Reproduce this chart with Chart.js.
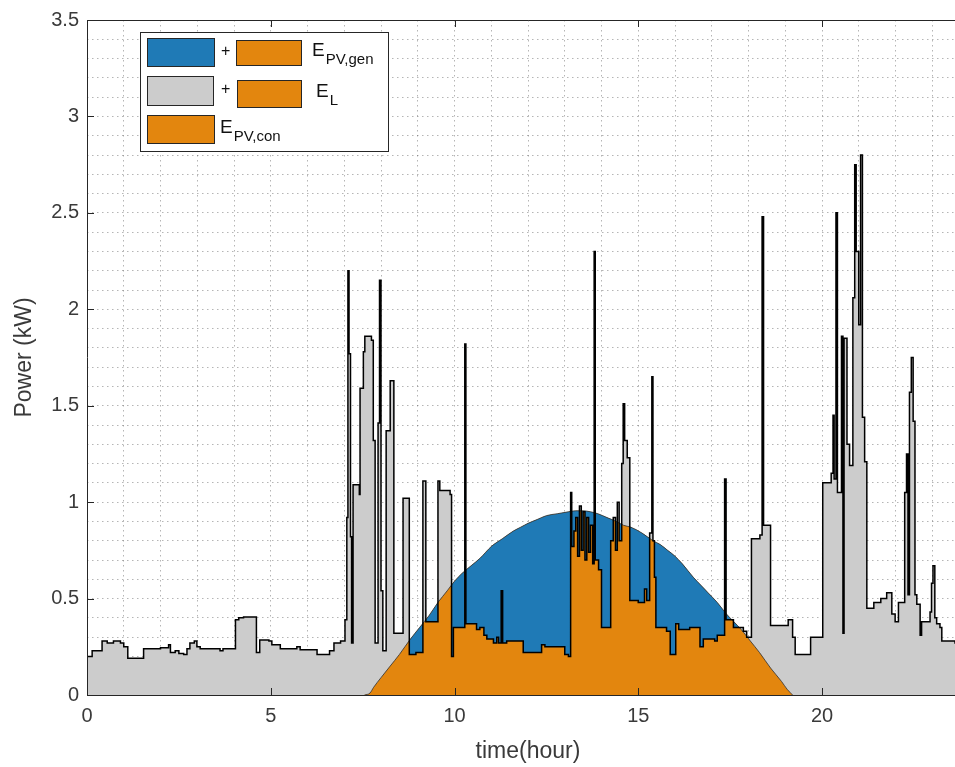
<!DOCTYPE html>
<html>
<head>
<meta charset="utf-8">
<title>Power profile</title>
<script src="https://cdn.jsdelivr.net/npm/chart.js@4.4.0/dist/chart.umd.min.js"></script>
<style>
  html, body { margin: 0; padding: 0; background: #fff; overflow: hidden; }
  #wrap { width: 955px; height: 767px; overflow: hidden; }
</style>
</head>
<body>
<div id="wrap"><canvas id="powerChart" width="990" height="767"></canvas></div>
<script>
// household load (kW), each value holds until the next time stamp (hours)
const loadHours = [
  0.00, 0.14, 0.41, 0.55, 0.72, 0.91, 1.00, 1.11, 1.54, 2.00, 2.22, 2.27, 2.40, 2.50, 2.63, 2.72,
  2.80, 2.92, 2.99, 3.08, 3.50, 3.62, 3.70, 4.04, 4.13, 4.26, 4.61, 4.70, 4.95, 5.03, 5.26, 5.50,
  5.71, 5.80, 6.26, 6.60, 6.72, 6.90, 7.02, 7.07, 7.10, 7.13, 7.17, 7.20, 7.24, 7.41, 7.43, 7.52,
  7.56, 7.74, 7.79, 7.84, 7.92, 7.96, 8.00, 8.05, 8.14, 8.25, 8.35, 8.60, 8.77, 8.95, 9.14, 9.22,
  9.55, 9.60, 9.88, 9.92, 9.97, 10.28, 10.31, 10.60, 10.69, 10.80, 10.88, 11.06, 11.15, 11.20, 11.27, 11.31,
  11.42, 11.87, 12.37, 12.46, 13.00, 13.10, 13.16, 13.19, 13.25, 13.30, 13.35, 13.40, 13.45, 13.50, 13.55, 13.60,
  13.65, 13.70, 13.76, 13.80, 13.83, 13.92, 14.00, 14.25, 14.32, 14.38, 14.43, 14.48, 14.55, 14.59, 14.63, 14.70,
  14.77, 15.00, 15.17, 15.23, 15.31, 15.37, 15.40, 15.44, 15.48, 15.77, 15.87, 16.02, 16.10, 16.40, 16.68, 16.77,
  17.08, 17.15, 17.35, 17.39, 17.59, 17.86, 17.95, 18.08, 18.31, 18.37, 18.41, 18.60, 19.08, 19.20, 19.27, 19.69,
  20.02, 20.25, 20.30, 20.33, 20.38, 20.42, 20.53, 20.57, 20.60, 20.68, 20.75, 20.84, 20.89, 20.93, 21.00, 21.05,
  21.10, 21.16, 21.22, 21.41, 21.60, 21.76, 21.90, 21.99, 22.08, 22.25, 22.30, 22.34, 22.38, 22.43, 22.48, 22.53,
  22.58, 22.67, 22.71, 22.94, 22.98, 23.02, 23.07, 23.12, 23.21, 23.26, 23.62, 24.00
];
const loadKW = [
  0.20, 0.23, 0.28, 0.27, 0.28, 0.27, 0.25, 0.19, 0.24, 0.245, 0.26, 0.22, 0.23, 0.215, 0.21, 0.24,
  0.27, 0.28, 0.25, 0.24, 0.24, 0.23, 0.24, 0.39, 0.40, 0.405, 0.22, 0.285, 0.28, 0.26, 0.24, 0.24,
  0.25, 0.235, 0.21, 0.23, 0.27, 0.28, 0.39, 0.92, 2.20, 1.77, 0.82, 0.27, 1.09, 1.04, 1.59, 1.78,
  1.86, 1.84, 1.32, 0.27, 1.41, 2.15, 0.54, 0.23, 1.37, 1.63, 0.32, 1.02, 0.21, 0.22, 1.11, 0.38,
  1.11, 1.06, 1.04, 0.20, 0.35, 1.82, 0.37, 0.34, 0.35, 0.31, 0.29, 0.27, 0.30, 0.27, 0.54, 0.27,
  0.28, 0.22, 0.26, 0.25, 0.21, 0.20, 1.05, 0.77, 0.85, 0.92, 0.72, 0.98, 0.75, 0.95, 0.70, 0.92,
  0.74, 0.88, 0.68, 2.30, 0.70, 0.65, 0.35, 0.80, 0.92, 0.75, 1.00, 0.80, 1.20, 1.51, 1.32, 1.23,
  0.49, 0.48, 0.55, 0.49, 0.84, 1.65, 0.80, 0.61, 0.35, 0.33, 0.21, 0.37, 0.34, 0.35, 0.25, 0.29,
  0.28, 0.31, 1.12, 0.39, 0.35, 0.33, 0.30, 0.81, 0.83, 2.48, 0.88, 0.36, 0.39, 0.30, 0.21, 0.30,
  1.10, 1.15, 1.45, 1.12, 2.50, 1.05, 1.86, 0.32, 1.85, 1.30, 1.19, 2.06, 2.75, 2.30, 1.92, 2.80,
  1.44, 1.21, 0.45, 0.48, 0.50, 0.53, 0.42, 0.38, 0.48, 1.05, 1.25, 0.52, 1.57, 1.75, 1.42, 0.52,
  0.47, 0.31, 0.38, 0.43, 0.58, 0.67, 0.40, 0.37, 0.35, 0.28, 0.27, 0.27
];

// PV generation (kW)
const pvHours = [
  7.55, 7.70, 7.80, 8.00, 8.25, 8.50, 8.80, 9.05, 9.30, 9.55, 9.80, 10.00, 10.20, 10.45, 10.70, 11.00,
  11.30, 11.60, 11.80, 12.00, 12.25, 12.50, 12.80, 13.10, 13.30, 13.50, 13.70, 13.90, 14.15, 14.40, 14.60, 14.80,
  15.10, 15.40, 15.60, 15.80, 16.00, 16.20, 16.50, 16.70, 16.90, 17.15, 17.40, 17.60, 17.80, 18.05, 18.30, 18.60,
  18.90, 19.05, 19.20
];
const pvKW = [
  0.00, 0.01, 0.04, 0.09, 0.15, 0.21, 0.29, 0.35, 0.41, 0.48, 0.54, 0.59, 0.63, 0.67, 0.71, 0.77,
  0.81, 0.85, 0.87, 0.89, 0.91, 0.93, 0.94, 0.95, 0.955, 0.955, 0.95, 0.94, 0.92, 0.90, 0.88, 0.87,
  0.84, 0.80, 0.78, 0.75, 0.72, 0.68, 0.61, 0.57, 0.53, 0.48, 0.42, 0.38, 0.34, 0.28, 0.22, 0.14,
  0.07, 0.03, 0.00
];

const xMajor = [0, 5, 10, 15, 20];
const yMajor = [0, 0.5, 1, 1.5, 2, 2.5, 3, 3.5];

const BLUE = 'rgb(31,122,182)';
const ORANGE = 'rgb(227,134,14)';
const GREY = 'rgb(204,204,204)';
const INK = '#262626';
const TXT = '#3a3a3a';
const FONT = '"Liberation Sans", Arial, Helvetica, sans-serif';

const loadPts = loadHours.map((t, i) => ({ x: t, y: loadKW[i] }));
const pvPts = pvHours.map((t, i) => ({ x: t, y: pvKW[i] }));

// box, inward tick marks and legend on top of the areas
const decorations = {
  id: 'decorations',
  afterDatasetsDraw(chart) {
    const { ctx, chartArea: a, scales: { x, y } } = chart;
    ctx.save();
    ctx.strokeStyle = INK;
    ctx.lineWidth = 1;
    ctx.beginPath();
    ctx.moveTo(a.left + 0.5, a.top + 0.5);
    ctx.lineTo(a.right, a.top + 0.5);
    ctx.moveTo(a.left + 0.5, a.top);
    ctx.lineTo(a.left + 0.5, a.bottom);
    ctx.moveTo(a.left, a.bottom + 0.5);
    ctx.lineTo(a.right, a.bottom + 0.5);
    xMajor.forEach(v => {
      const px = Math.round(x.getPixelForValue(v)) + 0.5;
      ctx.moveTo(px, a.bottom);
      ctx.lineTo(px, a.bottom - 7);
      ctx.moveTo(px, a.top);
      ctx.lineTo(px, a.top + 7);
    });
    yMajor.forEach(v => {
      const py = Math.round(y.getPixelForValue(v)) + 0.5;
      ctx.moveTo(a.left, py);
      ctx.lineTo(a.left + 7, py);
    });
    ctx.stroke();
    ctx.restore();
  },
  afterDraw(chart) {
    const { ctx, chartArea: a } = chart;
    const L = a.left + 53, T = a.top + 12;
    ctx.save();
    ctx.fillStyle = '#fff';
    ctx.fillRect(L, T, 248, 119);
    ctx.strokeStyle = INK;
    ctx.lineWidth = 1;
    ctx.strokeRect(L + 0.5, T + 0.5, 248, 119);

    const swatch = (x0, y0, w, h, c) => {
      ctx.fillStyle = c;
      ctx.fillRect(x0, y0, w, h);
      ctx.strokeStyle = INK;
      ctx.strokeRect(x0 + 0.5, y0 + 0.5, w, h);
    };
    const label = (x0, base, main, sub) => {
      ctx.fillStyle = '#111';
      ctx.textBaseline = 'alphabetic';
      ctx.font = '19px ' + FONT;
      ctx.fillText(main, x0, base);
      const w = ctx.measureText(main).width;
      ctx.font = '15px ' + FONT;
      ctx.fillText(sub, x0 + w + 1, base + 8);
    };
    const plus = (x0, base) => {
      ctx.fillStyle = '#111';
      ctx.font = '16px ' + FONT;
      ctx.fillText('+', x0, base);
    };

    swatch(L + 7, T + 6, 67, 28, BLUE);
    plus(L + 81, T + 24);
    swatch(L + 96, T + 8, 65, 25, ORANGE);
    label(L + 172, T + 24, 'E', 'PV,gen');

    swatch(L + 7, T + 44, 66, 29, GREY);
    plus(L + 81, T + 62);
    swatch(L + 97, T + 48, 64, 27, ORANGE);
    label(L + 176, T + 65, 'E', 'L');

    swatch(L + 7, T + 83, 67, 28, ORANGE);
    label(L + 80, T + 101, 'E', 'PV,con');
    ctx.restore();
  }
};

const ctx = document.getElementById('powerChart').getContext('2d');
new Chart(ctx, {
  type: 'line',
  data: {
    datasets: [
      { // load outline
        data: loadPts, stepped: true, borderColor: '#000', borderWidth: 1.5,
        fill: false, pointRadius: 0
      },
      { // PV edge, blue where generation exceeds load
        data: pvPts, borderColor: '#303030', borderWidth: 0.8, cubicInterpolationMode: 'monotone',
        fill: { target: 3, above: BLUE, below: 'rgba(0,0,0,0)' }, pointRadius: 0
      },
      { // PV area, orange where it is consumed
        data: pvPts, borderWidth: 0, cubicInterpolationMode: 'monotone',
        backgroundColor: ORANGE, fill: 'origin', pointRadius: 0
      },
      { // load area
        data: loadPts, stepped: true, borderWidth: 0,
        backgroundColor: GREY, fill: 'origin', pointRadius: 0
      }
    ]
  },
  options: {
    responsive: false,
    devicePixelRatio: 1,
    animation: false,
    events: [],
    layout: { padding: { top: 17, right: 21, left: 0, bottom: 0 } },
    plugins: { legend: { display: false }, tooltip: { enabled: false } },
    scales: {
      x: {
        type: 'linear', min: 0, max: 24,
        afterFit: s => { s.height = 72; },
        ticks: {
          stepSize: 1, autoSkip: false, maxRotation: 0, includeBounds: false, maxTicksLimit: 100,
          padding: 9, color: TXT, font: { family: FONT, size: 20 },
          callback: v => (xMajor.includes(v) ? String(v) : '')
        },
        grid: { color: 'rgba(90,90,90,0.45)', lineWidth: 1, drawTicks: false },
        border: { display: false, dash: [1.5, 3.5] },
        title: {
          display: true, text: 'time(hour)', color: TXT,
          font: { family: FONT, size: 23 }, padding: { top: 0, bottom: 2 }
        }
      },
      y: {
        type: 'linear', min: 0, max: 3.5,
        afterFit: s => { s.width = 87; },
        ticks: {
          stepSize: 0.1, autoSkip: false, maxTicksLimit: 100,
          padding: 8, color: TXT, font: { family: FONT, size: 20 },
          callback: v => (Math.abs(v * 2 - Math.round(v * 2)) < 1e-6 ? String(Math.round(v * 10) / 10) : '')
        },
        grid: { color: 'rgba(90,90,90,0.45)', lineWidth: 1, drawTicks: false },
        border: { display: false, dash: [1.5, 3.5] },
        title: {
          display: true, text: 'Power (kW)', color: TXT,
          font: { family: FONT, size: 23 }, padding: { top: 11, bottom: 0 }
        }
      }
    }
  },
  plugins: [decorations]
});
</script>
</body>
</html>
